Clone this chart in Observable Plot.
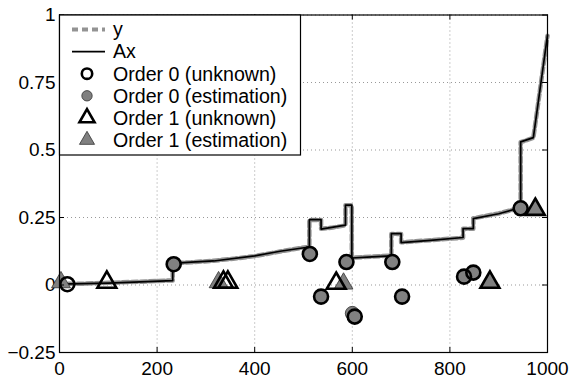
<!DOCTYPE html>
<html><head><meta charset="utf-8">
<script src="https://cdn.jsdelivr.net/npm/d3@7"></script>
<script src="https://cdn.jsdelivr.net/npm/@observablehq/plot@0.6"></script>
<style>body{margin:0;background:#fff} svg{display:block}</style>
</head><body><div id="chart"></div>
<script>
// Ax (solid black) polyline
const axX = [0, 100, 232, 232, 270, 316, 400, 452, 494, 512, 512, 536, 536, 586, 586, 599, 599, 640, 680, 680, 700, 700, 760, 827, 827, 848, 848, 900, 945, 945, 971, 1000];
const axV = [0.003, 0.007, 0.016, 0.08, 0.085, 0.089, 0.108, 0.125, 0.136, 0.14, 0.242, 0.242, 0.207, 0.222, 0.296, 0.296, 0.1, 0.104, 0.108, 0.19, 0.19, 0.157, 0.165, 0.176, 0.209, 0.209, 0.246, 0.264, 0.287, 0.53, 0.546, 0.925];
// y (dashed gray) polyline
const yX = [0, 50, 100, 160, 232, 232, 270, 316, 360, 400, 452, 494, 512, 512, 536, 536, 560, 586, 586, 599, 599, 640, 680, 680, 700, 700, 760, 827, 827, 848, 848, 900, 945, 945, 971, 1000];
const yV = [0.004, 0.005, 0.008, 0.012, 0.017, 0.081, 0.084, 0.09, 0.098, 0.107, 0.124, 0.137, 0.141, 0.241, 0.241, 0.208, 0.213, 0.221, 0.295, 0.295, 0.101, 0.105, 0.109, 0.189, 0.189, 0.158, 0.166, 0.175, 0.208, 0.208, 0.247, 0.265, 0.286, 0.529, 0.545, 0.923];
// Order 0 (unknown) circles
const o0uX = [16, 234, 513, 536, 588, 605, 682, 702, 829, 848, 945];
const o0uY = [0.003, 0.077, 0.115, -0.043, 0.085, -0.117, 0.085, -0.043, 0.031, 0.046, 0.284];
// Order 0 (estimation) circles
const o0eX = [234, 513, 536, 588, 600, 605, 682, 702, 829, 848, 945];
const o0eY = [0.077, 0.115, -0.043, 0.085, -0.105, -0.117, 0.085, -0.043, 0.031, 0.046, 0.284];
// Order 1 (unknown) triangles
const o1uX = [97, 336, 345, 567, 882, 975];
const o1uY = [0.01, 0.01, 0.01, 0.006, 0.01, 0.28];
// Order 1 (estimation) triangles
const o1eX = [3, 326, 582, 882, 975];
const o1eY = [0.01, 0.01, 0.005, 0.01, 0.28];

const xTicks = [0, 200, 400, 600, 800, 1000];
const yTicks = [-0.25, 0, 0.25, 0.5, 0.75, 1];
const legendLabels = ["y", "Ax", "Order 0 (unknown)", "Order 0 (estimation)", "Order 1 (unknown)", "Order 1 (estimation)"];

const W = 570, H = 381;
const mT = 14.5, mR = 23, mB = 29, mL = 59;
const innerW = W - mL - mR, innerH = H - mT - mB;

const pts = (xs, ys) => xs.map((x, i) => ({x, y: ys[i]}));
const GRAY = "#808080";
const YCOL = "#939393";
const chart = Plot.plot({
  width: W, height: H,
  marginTop: mT, marginRight: mR, marginBottom: mB, marginLeft: mL,
  style: {fontFamily: "'Liberation Sans', Arial, sans-serif", fontSize: "19px", color: "black", background: "white"},
  x: {domain: [0, 1000], ticks: xTicks, tickSize: 0, tickPadding: 9, tickFormat: d3.format("d"), label: null},
  y: {domain: [-0.25, 1], ticks: yTicks, tickSize: 0, tickPadding: 4, tickFormat: d3.format(""), label: null},
  marks: [
    Plot.gridX(xTicks, {stroke: "#999", strokeOpacity: 1, strokeDasharray: "1,3"}),
    Plot.gridY(yTicks, {stroke: "#999", strokeOpacity: 1, strokeDasharray: "1,3"}),
    Plot.line(pts(yX, yV), {x: "x", y: "y", stroke: YCOL, strokeWidth: 4.5, strokeDasharray: "6,3"}),
    Plot.line(pts(axX, axV), {x: "x", y: "y", stroke: "black", strokeWidth: 1.7}),
    Plot.dot(pts(o1eX, o1eY), {x: "x", y: "y", symbol: "triangle", r: 7, fill: GRAY, stroke: "#333", strokeWidth: 0.8}),
    Plot.dot(pts(o1uX, o1uY), {x: "x", y: "y", symbol: "triangle", r: 7, fill: "none", stroke: "black", strokeWidth: 2.6}),
    Plot.dot(pts(o0eX, o0eY), {x: "x", y: "y", symbol: "circle", r: 7, fill: GRAY, stroke: "#333", strokeWidth: 0.8}),
    Plot.dot(pts(o0uX, o0uY), {x: "x", y: "y", symbol: "circle", r: 7, fill: "none", stroke: "black", strokeWidth: 2.6}),
    Plot.ruleX(xTicks, {x: d => d, insetTop: innerH - 5, stroke: "black"}),
    Plot.ruleX(xTicks, {x: d => d, insetBottom: innerH - 5, stroke: "black"}),
    Plot.ruleY(yTicks, {y: d => d, insetRight: innerW - 5, stroke: "black"}),
    Plot.ruleY(yTicks, {y: d => d, insetLeft: innerW - 5, stroke: "black"}),
    Plot.frame({stroke: "black", strokeWidth: 1.2})
  ]
});
document.getElementById("chart").appendChild(chart);

// Legend box inside the plot area (top-left)
const svg = d3.select(chart);
const lg = svg.append("g").attr("font-family", "'Liberation Sans', Arial, sans-serif").attr("font-size", 19.6).attr("text-anchor", "start");
lg.append("rect").attr("x", mL + 0.5).attr("y", mT + 0.5).attr("width", 241).attr("height", 140)
  .attr("fill", "white").attr("stroke", "black").attr("stroke-width", 1.2);
const rowY = i => 29.5 + 22.1 * i;
const mx = 87;
lg.append("line").attr("x1", 72).attr("x2", 105).attr("y1", rowY(0)).attr("y2", rowY(0))
  .attr("stroke", YCOL).attr("stroke-width", 4).attr("stroke-dasharray", "6,4");
lg.append("line").attr("x1", 72).attr("x2", 105).attr("y1", rowY(1)).attr("y2", rowY(1))
  .attr("stroke", "black").attr("stroke-width", 1.7);
lg.append("circle").attr("cx", mx).attr("cy", rowY(2)).attr("r", 5.2).attr("fill", "none").attr("stroke", "black").attr("stroke-width", 2.6);
lg.append("circle").attr("cx", mx).attr("cy", rowY(3)).attr("r", 5.2).attr("fill", GRAY).attr("stroke", "#333").attr("stroke-width", 0.8);
const tri = d3.symbol(d3.symbolTriangle, Math.PI * 5.6 * 5.6);
lg.append("path").attr("d", tri()).attr("transform", `translate(${mx},${rowY(4)})`).attr("fill", "none").attr("stroke", "black").attr("stroke-width", 2.6);
lg.append("path").attr("d", tri()).attr("transform", `translate(${mx},${rowY(5)})`).attr("fill", GRAY).attr("stroke", "#333").attr("stroke-width", 0.8);
legendLabels.forEach((t, i) => {
  lg.append("text").attr("x", 113).attr("y", rowY(i)).attr("dy", "0.35em").attr("fill", "black").attr("text-anchor", "start").text(t);
});
</script></body></html>
